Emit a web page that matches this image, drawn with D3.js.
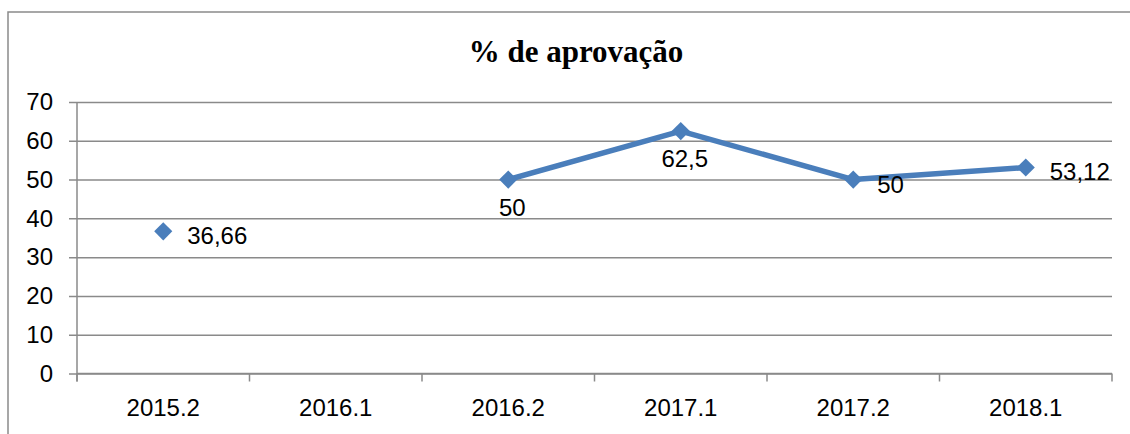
<!DOCTYPE html>
<html>
<head>
<meta charset="utf-8">
<script src="https://cdn.jsdelivr.net/npm/d3@7"></script>
<style>
  html, body { margin: 0; padding: 0; background: #fff; }
  svg { display: block; }
</style>
</head>
<body>
<div id="chart"></div>
<script>
// chart data
const categories = ['2015.2', '2016.1', '2016.2', '2017.1', '2017.2', '2018.1'];
const approval = [36.66, null, 50, 62.5, 50, 53.12];
const valueLabels = ['36,66', '', '50', '62,5', '50', '53,12'];
const labelSide = ['right', '', 'below', 'below', 'right', 'right'];
const yTicks = [0, 10, 20, 30, 40, 50, 60, 70];
const title = '% de aprovação';

const W = 1130, H = 434;
const margin = { top: 102, right: 18, bottom: 60.5, left: 77 };
const blue = '#4a7ebb', grid = '#8a8a8a';
const font = '"Liberation Sans", Arial, sans-serif';

const svg = d3.select('#chart').append('svg')
    .attr('width', W)
    .attr('height', H);

// outer frame (runs off the right and bottom edges)
svg.append('rect')
    .attr('x', 8).attr('y', 12)
    .attr('width', W + 10).attr('height', H + 10)
    .attr('fill', 'none')
    .attr('stroke', grid)
    .attr('stroke-width', 1.5);

svg.append('text')
    .attr('x', 576).attr('y', 62)
    .attr('text-anchor', 'middle')
    .attr('font-family', '"Liberation Serif", "Times New Roman", serif')
    .attr('font-weight', 'bold')
    .attr('font-size', 31)
    .text(title);

const x = d3.scaleBand()
    .domain(categories)
    .range([margin.left, W - margin.right]);

const y = d3.scaleLinear()
    .domain([0, 70])
    .range([H - margin.bottom, margin.top]);

// gridlines + y ticks
const yAxis = svg.append('g')
    .attr('transform', `translate(${margin.left},0)`)
    .call(d3.axisLeft(y).tickValues(yTicks).tickSize(8).tickPadding(16))
    .call(g => g.select('.domain').remove());

yAxis.selectAll('.tick line')
    .attr('x2', W - margin.right - margin.left)
    .attr('x1', -8)
    .attr('stroke', grid)
    .attr('stroke-width', 1.5);

yAxis.selectAll('.tick text')
    .attr('font-family', font)
    .attr('font-size', 24)
    .attr('fill', '#000');

// vertical axis line
svg.append('line')
    .attr('x1', margin.left).attr('x2', margin.left)
    .attr('y1', y(70)).attr('y2', y(0) + 8)
    .attr('stroke', grid)
    .attr('stroke-width', 1.5);

// x axis with ticks between categories
const xAxis = svg.append('g')
    .attr('transform', `translate(0,${y(0)})`);

xAxis.append('line')
    .attr('x1', margin.left).attr('x2', W - margin.right)
    .attr('stroke', grid)
    .attr('stroke-width', 1.5);

const bounds = categories.map(c => x(c)).concat([x.range()[1]]);
xAxis.selectAll('line.sep')
    .data(bounds)
    .join('line')
    .attr('class', 'sep')
    .attr('x1', d => d).attr('x2', d => d)
    .attr('y1', 0).attr('y2', 8)
    .attr('stroke', grid)
    .attr('stroke-width', 1.5);

xAxis.selectAll('text')
    .data(categories)
    .join('text')
    .attr('x', d => x(d) + x.bandwidth() / 2)
    .attr('y', 42)
    .attr('text-anchor', 'middle')
    .attr('font-family', font)
    .attr('font-size', 24)
    .text(d => d);

// series
const pts = categories.map((c, i) => ({ c, v: approval[i], label: valueLabels[i], side: labelSide[i] }));
const cx = d => x(d.c) + x.bandwidth() / 2;

const line = d3.line()
    .defined(d => d.v != null)
    .x(cx)
    .y(d => y(d.v));

svg.append('path')
    .datum(pts)
    .attr('d', line)
    .attr('fill', 'none')
    .attr('stroke', blue)
    .attr('stroke-width', 5.5)
    .attr('stroke-linejoin', 'round');

const valid = pts.filter(d => d.v != null);

svg.selectAll('path.marker')
    .data(valid)
    .join('path')
    .attr('class', 'marker')
    .attr('d', d3.symbol().type(d3.symbolDiamond2).size(210))
    .attr('transform', d => `translate(${cx(d)},${y(d.v)})`)
    .attr('fill', blue);

svg.selectAll('text.val')
    .data(valid)
    .join('text')
    .attr('class', 'val')
    .attr('x', d => d.side === 'right' ? cx(d) + 24 : cx(d) + 4)
    .attr('y', d => d.side === 'right' ? y(d.v) + 13 : y(d.v) + 36)
    .attr('text-anchor', d => d.side === 'right' ? 'start' : 'middle')
    .attr('font-family', font)
    .attr('font-size', 24)
    .text(d => d.label);
</script>
</body>
</html>
